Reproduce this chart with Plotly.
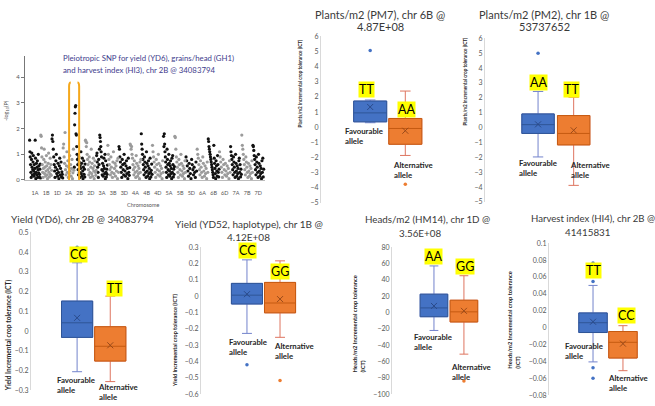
import plotly.graph_objects as go

W, H = 655, 406
def px(x): return x / W
def py(y): return 1 - y / H

FONT = "Lato"

# ---------------- Manhattan plot data (-log10 P per SNP, in map order) ----------------
chromosomes = ["1A","1B","1D","2A","2B","2D","3A","3B","3D","4A","4B","4D","5A","5B","5D","6A","6B","6D","7A","7B","7D"]
chr_1A = [1.55,1.1,0.9,0.6,0.3,0.1,0.8,1.05,0.5,0.2,0.4,0.7,0.95,0.35,0.15,0.6,0.25,0.45,1.55,0.85,0.05,0.3,0.65,0.2,0.5,0.75,0.1,0.4,1.0,0.28,0.55,0.12,0.22,0.42,0.62,0.08]
chr_1B = [1.75,1.7,1.25,0.9,0.6,0.3,0.1,0.45,0.8,1.2,0.25,0.5,0.7,0.15,0.35,0.95,0.55,0.2,0.05,0.4,0.65,1.05,0.3,0.12,0.48,0.85,0.22,0.6,0.18,0.38]
chr_1D = [1.6,1.75,1.5,1.2,0.9,0.6,0.35,0.1,0.5,0.75,1.0,0.25,0.4,0.15,0.65,0.3,0.05,0.55,0.85,0.2,0.45,0.7,0.12,0.32,0.22,0.08]
chr_2A = [1.25,1.4,0.9,0.65,1.85,0.4,0.2,0.55,1.1,0.3,0.75,0.1,0.5,0.25,0.95,0.35,0.6,0.15,0.45,0.8,0.05,0.28,1.2,0.38]
chr_2B = [0.5,2.15,2.6,2.85,2.9,1.8,1.75,1.3,1.0,0.8,0.6,0.4,0.2,0.9,0.7,0.3,0.1,0.55,0.45,1.1,0.25,0.65,0.15,0.85,0.35,0.05,0.5,0.75,0.22,0.42,0.12,0.62]
chr_2D = [1.55,1.5,1.3,1.45,1.0,0.8,0.6,0.4,0.2,0.9,0.7,0.3,0.1,0.5,1.2,0.25,0.65,0.15,0.45,0.85,0.35,0.05,0.55,0.75,0.3,0.18,0.38]
chr_3A = [0.95,1.05,0.7,0.5,0.3,0.1,0.8,0.6,1.2,1.75,1.65,1.5,1.3,1.1,0.9,0.4,0.2,0.65,0.35,0.15,0.55,0.85,0.45,0.25,1.0,0.05,0.75,0.3,0.12,0.42,0.22,0.58]
chr_3B = [1.35,1.0,0.8,0.6,0.4,0.2,0.9,0.5,0.3,0.1,0.7,1.1,0.25,0.45,0.65,0.15,0.55,0.35,0.75,0.05,0.85,0.3]
chr_3D = [1.3,1.2,0.9,0.7,0.5,0.3,0.1,0.8,0.6,0.4,0.2,1.0,0.65,0.35,0.15,0.55,0.75,0.25,0.45,0.05,0.85,0.3,0.18,0.48]
chr_4A = [1.4,1.35,1.2,1.3,1.0,0.85,0.6,0.4,0.2,0.75,0.5,0.3,0.1,0.95,0.65,0.35,0.15,0.55,0.25,0.45,0.05,0.7,0.3,0.8]
chr_4B = [1.8,1.4,1.2,1.0,0.8,0.6,0.4,0.2,0.9,0.7,0.5,0.3,0.1,1.1,0.65,0.35,0.15,0.55,0.75,0.25,0.45,0.05,0.85,0.3,0.12,0.38,0.62,0.22]
chr_4D = [1.35,1.1,0.9,0.7,0.5,0.3,0.1,0.8,0.6,0.4,0.2,1.0,0.65,0.35,0.15,0.55,0.25,0.45,0.05,0.75,0.3]
chr_5A = [1.7,1.3,1.8,1.4,1.1,0.9,0.7,0.5,0.3,0.1,1.2,0.8,0.6,0.4,0.2,1.0,0.65,0.35,0.15,0.55,0.75,0.25,0.45,0.05,0.85,0.3,0.95,0.6,0.12,0.42,0.22,0.52]
chr_5B = [1.7,1.65,1.2,0.9,0.7,0.5,0.3,0.1,0.8,0.6,0.4,0.2,1.0,0.65,0.35,0.15,0.55,0.25,0.45,0.05,0.75,0.3]
chr_5D = [0.9,0.75,0.55,0.35,0.15,0.65,0.45,0.25,0.05,0.8,0.6,0.4,0.2,0.5,0.3,0.1,0.7,0.35]
chr_6A = [1.2,1.0,0.85,0.6,0.4,0.2,0.75,0.5,0.3,0.1,0.9,0.65,0.35,0.15,0.55,0.25,0.45,0.05,0.7,0.3]
chr_6B = [1.6,1.5,1.3,1.2,1.1,1.0,0.9,0.8,0.7,0.6,0.5,0.4,0.3,0.2,0.1,1.35,0.85,0.65,0.45,0.25,0.05,0.75,0.55,0.35,0.15,0.95,0.6,0.3,0.12,0.42]
chr_6D = [1.1,0.9,0.7,0.5,0.3,0.1,0.8,0.6,0.4,0.2,0.65,0.35,0.15,0.55,0.25,0.45,0.05,0.75,0.3]
chr_7A = [1.3,1.1,0.95,0.8,0.6,0.4,0.2,0.9,0.7,0.5,0.3,0.1,1.0,0.65,0.35,0.15,0.55,0.25,0.45,0.05,0.75,0.85,0.3,0.6,0.12,0.42,0.22]
chr_7B = [1.75,1.35,1.2,1.0,0.8,0.6,0.4,0.2,0.9,0.7,0.5,0.3,0.1,0.65,0.35,0.15,0.55,0.25,0.45,0.05,0.75,0.3]
chr_7D = [1.35,1.3,1.15,0.95,0.8,0.6,0.4,0.2,0.9,0.7,0.5,0.3,0.1,1.0,0.65,0.35,0.15,0.55,0.25,0.45,0.05,0.75,0.3,0.85,0.12,0.42]
chr_values = [chr_1A, chr_1B, chr_1D, chr_2A, chr_2B, chr_2D, chr_3A, chr_3B, chr_3D, chr_4A, chr_4B, chr_4D,
              chr_5A, chr_5B, chr_5D, chr_6A, chr_6B, chr_6D, chr_7A, chr_7B, chr_7D]

# ---------------- Box plot data: [Favourable allele, Alternative allele] ----------------
alleles = ["Favourable", "Alternative"]
# PM7
pm7_q1 = [0.36, -1.12]; pm7_med = [0.95, -0.08]; pm7_q3 = [1.73, 0.58]
pm7_lo = [0.30, -1.86]; pm7_hi = [1.80, 2.39]; pm7_mean = [1.34, -0.23]
pm7_out = [[5.07], [-3.76]]
# PM2
pm2_q1 = [-0.39, -1.16]; pm2_med = [0.20, -0.39]; pm2_q3 = [0.92, 0.81]
pm2_lo = [-1.97, -3.88]; pm2_hi = [2.43, 2.04]; pm2_mean = [0.22, -0.18]
pm2_out = [[5.0], []]
# YD6
yd6_q1 = [-0.032, -0.152]; yd6_med = [0.042, -0.077]; yd6_q3 = [0.152, 0.022]
yd6_lo = [-0.206, -0.256]; yd6_hi = [0.346, 0.177]; yd6_mean = [0.067, -0.072]
yd6_out = [[0.425], []]
# YD52
yd52_q1 = [-0.048, -0.102]; yd52_med = [0.006, -0.042]; yd52_q3 = [0.078, 0.084]
yd52_lo = [-0.228, -0.252]; yd52_hi = [0.222, 0.216]; yd52_mean = [0.012, -0.018]
yd52_out = [[-0.42], [-0.516]]
# HM14
hm14_q1 = [-5.2, -11.6]; hm14_med = [5.6, 0.8]; hm14_q3 = [22.4, 15.0]
hm14_lo = [-22.0, -51.0]; hm14_hi = [57.0, 45.0]; hm14_mean = [8.0, 2.0]
hm14_out = [[], [-84.0]]
# HI4
hi4_q1 = [-0.0058, -0.036]; hi4_med = [0.0058, -0.0174]; hi4_q3 = [0.0174, -0.0046]
hi4_lo = [-0.0406, -0.051]; hi4_hi = [0.050, 0.0023]; hi4_mean = [0.007, -0.019]
hi4_out = [[0.0767, 0.0546, -0.0476, -0.060], []]

fig = go.Figure()

# ---------------- Manhattan ----------------
for parity, col in [(0, "#111111"), (1, "#9B9B9B")]:
    xs, ys = [], []
    for i, vals in enumerate(chr_values):
        if i % 2 != parity:
            continue
        n = len(vals)
        for j, v in enumerate(vals):
            xs.append(i - 0.5 + (j + 0.5) / n)
            ys.append(v)
    fig.add_trace(go.Scatter(x=xs, y=ys, mode="markers", xaxis="x", yaxis="y",
                             marker=dict(size=3.2, color=col), cliponaxis=False, hoverinfo="skip"))

# ---------------- Box panels ----------------
BLUE, BLUE_LINE, BLUE_WH, BLUE_MK = "#4472C4", "#2F5597", "#7383CC", "#2A4A8A"
ORNG, ORNG_LINE, ORNG_WH, ORNG_MK = "#ED7D31", "#C55A11", "#DE7560", "#9A4A1A"

panels = [
    ("x2", "y2", pm7_q1, pm7_med, pm7_q3, pm7_lo, pm7_hi, pm7_mean, pm7_out, 0.94),
    ("x3", "y3", pm2_q1, pm2_med, pm2_q3, pm2_lo, pm2_hi, pm2_mean, pm2_out, 0.91),
    ("x4", "y4", yd6_q1, yd6_med, yd6_q3, yd6_lo, yd6_hi, yd6_mean, yd6_out, 0.94),
    ("x5", "y5", yd52_q1, yd52_med, yd52_q3, yd52_lo, yd52_hi, yd52_mean, yd52_out, 0.94),
    ("x6", "y6", hm14_q1, hm14_med, hm14_q3, hm14_lo, hm14_hi, hm14_mean, hm14_out, 0.92),
    ("x7", "y7", hi4_q1, hi4_med, hi4_q3, hi4_lo, hi4_hi, hi4_mean, hi4_out, 0.95),
]
for xa, ya, q1, med, q3, lo, hi, mean, out, bw in panels:
    for k, (fill, line, wh, mk) in enumerate([(BLUE, BLUE_LINE, BLUE_WH, BLUE_MK),
                                               (ORNG, ORNG_LINE, ORNG_WH, ORNG_MK)]):
        cat = [alleles[k]]
        # whiskers
        fig.add_trace(go.Box(x=cat, q1=[q1[k]], median=[med[k]], q3=[q3[k]],
                             lowerfence=[lo[k]], upperfence=[hi[k]], width=bw, whiskerwidth=0.32,
                             fillcolor="rgba(0,0,0,0)", line=dict(color=wh, width=1),
                             boxpoints=False, xaxis=xa, yaxis=ya, hoverinfo="skip"))
        # box
        fig.add_trace(go.Box(x=cat, q1=[q1[k]], median=[med[k]], q3=[q3[k]],
                             lowerfence=[q1[k]], upperfence=[q3[k]], width=bw, whiskerwidth=0,
                             fillcolor=fill, line=dict(color=line, width=1),
                             boxpoints=False, xaxis=xa, yaxis=ya, hoverinfo="skip"))
        fig.add_trace(go.Scatter(x=cat, y=[mean[k]], mode="markers", xaxis=xa, yaxis=ya,
                                 marker=dict(symbol="x-thin-open", size=6, color=mk,
                                             line=dict(color=mk, width=1)),
                                 hoverinfo="skip"))
        if out[k]:
            fig.add_trace(go.Scatter(x=cat * len(out[k]), y=out[k], mode="markers", xaxis=xa, yaxis=ya,
                                     marker=dict(size=3.5, color=fill), cliponaxis=False, hoverinfo="skip"))

# ---------------- Layout ----------------
def box_y(top, bottom, rng, dtick):
    return dict(domain=[py(bottom), py(top)], range=rng, dtick=dtick, showgrid=False, zeroline=False,
                showline=True, linecolor="#D9D9D9", linewidth=1, ticks="", ticklen=0,
                tickfont=dict(family=FONT, size=7, color="#595959"))

def box_x(left, right, rng):
    return dict(domain=[px(left), px(right)], range=rng, type="category",
                categoryorder="array", categoryarray=alleles,
                showgrid=False, zeroline=False, showline=False, showticklabels=False, ticks="")

layout = dict(
    width=W, height=H, margin=dict(l=0, r=0, t=0, b=0),
    paper_bgcolor="white", plot_bgcolor="white", showlegend=False,
    xaxis=dict(domain=[px(25), px(265)], range=[-0.9, 20.6], anchor="y",
               tickmode="array", tickvals=list(range(len(chromosomes))), ticktext=chromosomes,
               tickfont=dict(family=FONT, size=5.5, color="#555555"),
               ticks="outside", ticklen=7, tickcolor="rgba(0,0,0,0)",
               showgrid=False, zeroline=False, showline=True, linecolor="#BBBBBB", linewidth=1),
    yaxis=dict(domain=[py(178.5), py(52)], range=[0, 4.83], anchor="x", dtick=1,
               tickfont=dict(family=FONT, size=6, color="#555555"), ticks="outside", ticklen=3,
               tickcolor="#777777", showgrid=False, zeroline=False, showline=True,
               linecolor="#777777", linewidth=1),
)
axes_spec = [
    # name, x-left, x-right, xrange, y-top, y-bottom, yrange, dtick
    ("2", 321, 458, [-1.4, 2.5], 32, 202, [-5, 6], 1),
    ("3", 485, 652, [-1.49, 3.2], 34, 201, [-5, 6], 1),
    ("4", 31, 160, [-1.39, 2.5], 232, 393, [-0.3, 0.5], 0.1),
    ("5", 201, 325, [-1.39, 2.36], 247, 397, [-0.6, 0.3], 0.1),
    ("6", 392, 490, [-1.4, 1.87], 247, 397, [-100, 80], 20),
    ("7", 549, 655, [-1.47, 2.07], 243, 398, [-0.08, 0.1], 0.02),
]
for name, xl, xr, xrng, yt, yb, yrng, dt in axes_spec:
    xa = box_x(xl, xr, xrng); xa["anchor"] = "y" + name
    ya = box_y(yt, yb, yrng, dt); ya["anchor"] = "x" + name
    layout["xaxis" + name] = xa
    layout["yaxis" + name] = ya
fig.update_layout(**layout)

# ---------------- Text ----------------
def txt(t, x, y, size=8, color="#404040", bold=False, xanchor="center", yanchor="middle", **kw):
    return dict(text=t, x=px(x), y=py(y), xref="paper", yref="paper", showarrow=False,
                xanchor=xanchor, yanchor=yanchor,
                font=dict(family=FONT, size=size, color=color, weight="bold" if bold else "normal"), **kw)

def gene(t, x, y):
    return txt(t, x, y, size=12.5, color="#000000", bgcolor="#FFFF00", borderpad=0)

def allele(t, x, y):
    return txt(t, x, y, size=7.8, color="#262626", bold=True, xanchor="left", align="left")

def ylab(t, x, y, size):
    return txt(t, x, y, size=size, color="#262626", bold=True, textangle=-90, align="left")

TC = "#3A3A3A"
anns = [
    # Manhattan
    txt("Pleiotropic SNP for yield (YD6), grains/head (GH1)", 61, 54, size=7.8, color="#3E3C8C", xanchor="left"),
    txt("and harvest index (HI3), chr 2B @ 34083794", 61, 66, size=7.8, color="#3E3C8C", xanchor="left"),
    txt("-log<sub>10</sub>(P)", 7, 108, size=5.5, color="#555555", textangle=-90),
    txt("Chromosome", 143, 204, size=5.5, color="#555555"),
    # PM7
    txt("Plants/m2 (PM7), chr 6B @", 380, 10, size=11, color=TC),
    txt("4.87E+08", 380, 22, size=11, color=TC),
    gene("TT", 366, 86), gene("AA", 406, 107),
    allele("Favourable<br>allele", 343, 134), allele("Alternative<br>allele", 391, 168),
    ylab("Plants/m2 Incremental crop tolerance (ICT)", 300, 80, 4.6),
    # PM2
    txt("Plants/m2 (PM2), chr 1B @", 544, 10, size=11, color=TC),
    txt("53737652", 544, 22, size=11, color=TC),
    gene("AA", 538, 79), gene("TT", 571, 86),
    allele("Favourable<br>allele", 517, 166), allele("Alternative<br>allele", 568, 168),
    ylab("Plants/m2 Incremental crop tolerance (ICT)", 465, 78, 4.6),
    # YD6
    txt("Yield (YD6), chr 2B @ 34083794", 82, 218, size=10, color=TC),
    gene("CC", 78, 255), gene("TT", 115, 289),
    allele("Favourable<br>allele", 55, 388), allele("Alternative<br>allele", 96, 395),
    ylab("Yield Incremental crop tolerance (ICT)", 8, 337, 6.6),
    # YD52
    txt("Yield (YD52, haplotype), chr 1B @", 249, 223, size=10, color=TC),
    txt("4.12E+08", 248, 237, size=10, color=TC),
    gene("CC", 247, 250), gene("GG", 280, 272),
    allele("Favourable<br>allele", 227, 349), allele("Alternative<br>allele", 272, 353),
    ylab("Yield Incremental crop tolerance (ICT)", 175, 342, 5.5),
    # HM14
    txt("Heads/m2 (HM14), chr 1D @", 428, 218, size=9.8, color=TC),
    txt("3.56E+08", 420, 233, size=9.8, color=TC),
    gene("AA", 433, 257), gene("GG", 465, 267),
    allele("Favourable<br>allele", 412, 344), allele("Alternative<br>allele", 449, 374),
    ylab("Heads/m2 Incremental crop tolerance<br>(ICT)", 359, 325, 5.8),
    # HI4
    txt("Harvest index (HI4), chr 2B @", 593, 218, size=9.6, color=TC),
    txt("41415831", 587, 232, size=9.8, color=TC),
    gene("TT", 593, 271), gene("CC", 626, 317),
    allele("Favourable<br>allele", 563, 353), allele("Alternative<br>allele", 606, 386),
    ylab("Heads/m2 Incremental crop tolerance<br>(ICT)", 514, 321, 5.8),
]
fig.update_layout(annotations=anns)

# orange bracket around the pleiotropic SNP on 2B (Manhattan data coordinates)
fig.add_shape(type="path", xref="x", yref="y", path="M 3.2,3.8 Q 3.05,3.8 3.05,3.65 L 3.05,-0.74",
              line=dict(color="#F5A81C", width=2))
fig.add_shape(type="path", xref="x", yref="y", path="M 3.8,3.8 Q 3.95,3.8 3.95,3.65 L 3.95,-0.74",
              line=dict(color="#F5A81C", width=2))

fig.write_html("out.html", config={"displayModeBar": False},
               post_script="document.body.style.margin='0px';document.body.style.overflow='hidden';")
